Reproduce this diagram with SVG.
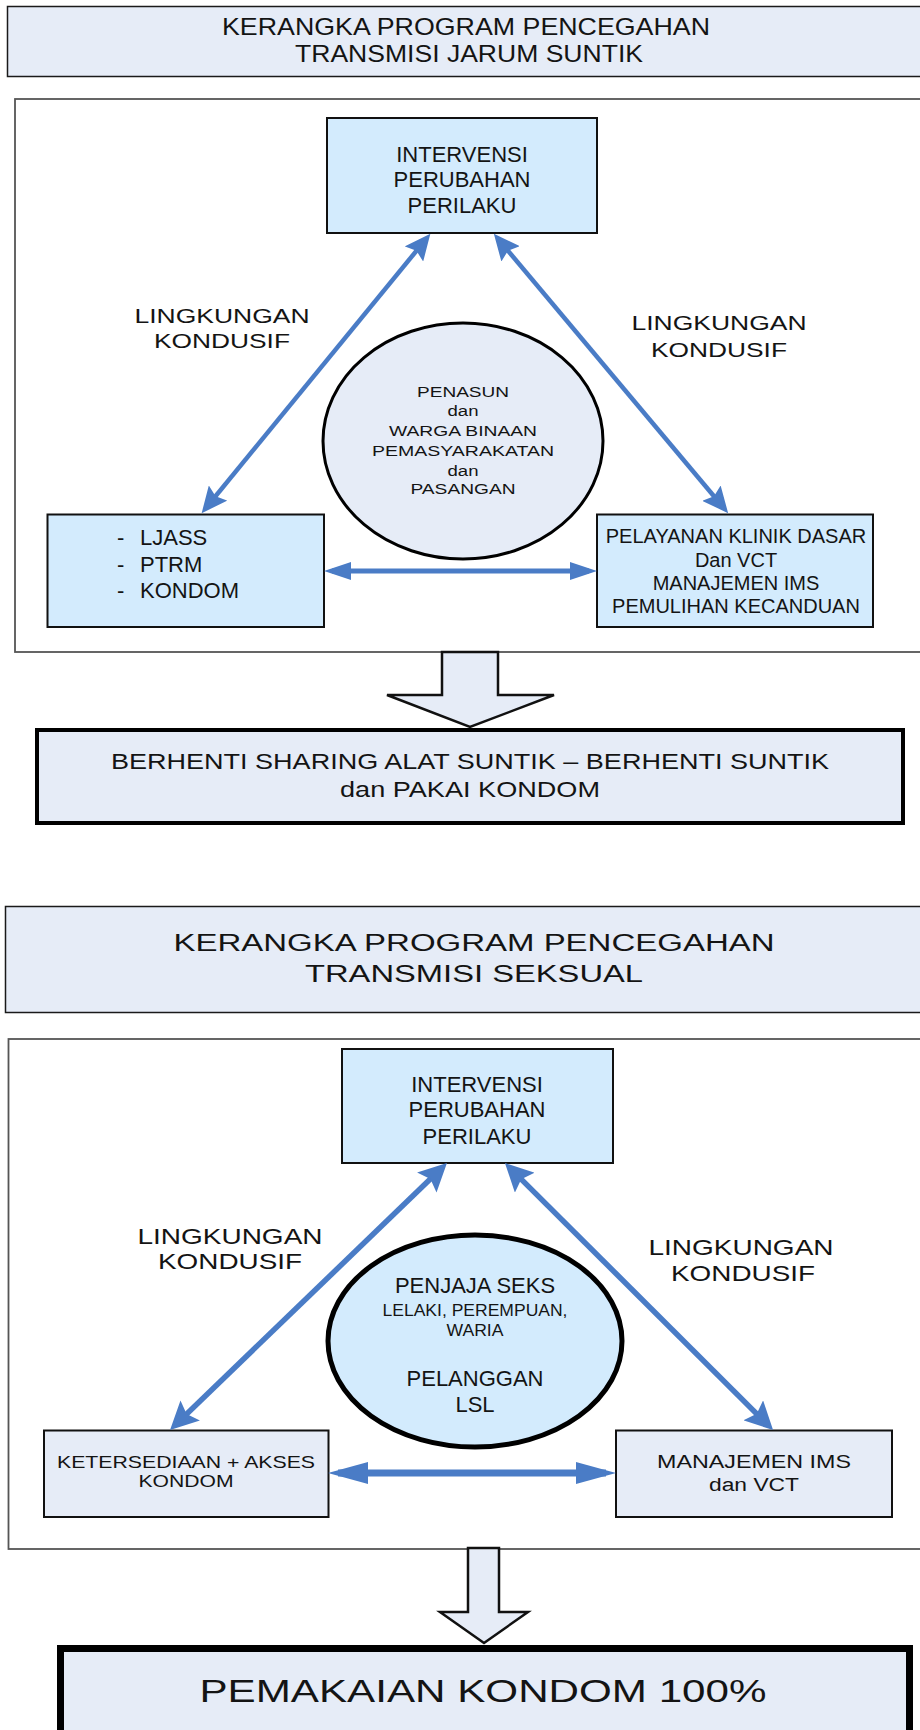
<svg xmlns="http://www.w3.org/2000/svg" width="920" height="1730" viewBox="0 0 920 1730">
<style>
text{font-family:"Liberation Sans",Arial,sans-serif;fill:#141414;}
.t{text-anchor:middle;}
.title{fill:#e6ecf7;stroke:#1a1a1a;stroke-width:1.5;}
.frame{fill:#fff;stroke:#555;stroke-width:1.8;}
.blue{fill:#d3ebfd;stroke:#111;stroke-width:2;}
.pale{fill:#e6ecf7;stroke:#111;stroke-width:2;}
.res1{fill:#e6ecf7;stroke:#000;stroke-width:4;}
.res2{fill:#e6ecf7;stroke:#000;stroke-width:7;}
.down{fill:#e6ecf7;stroke:#111;stroke-width:2.5;stroke-linejoin:miter;}
.c{stroke:#4a7cc6;fill:none;}
</style>
<defs>
<marker id="hd1" markerUnits="userSpaceOnUse" viewBox="0 0 26 24" markerWidth="26" markerHeight="24" refX="18" refY="12" orient="auto-start-reverse"><path d="M0,0 L26,12 L0,24 L4,12 z" fill="#4a7cc6"/></marker>
<marker id="hd2" markerUnits="userSpaceOnUse" viewBox="0 0 28 28" markerWidth="28" markerHeight="28" refX="20" refY="14" orient="auto-start-reverse"><path d="M0,0 L28,14 L0,28 L5,14 z" fill="#4a7cc6"/></marker>
<marker id="hh1" markerUnits="userSpaceOnUse" viewBox="0 0 27 18" markerWidth="27" markerHeight="18" refX="19" refY="9" orient="auto-start-reverse"><path d="M0,0 L27,9 L0,18 z" fill="#4a7cc6"/></marker>
<marker id="hh2" markerUnits="userSpaceOnUse" viewBox="0 0 40 22" markerWidth="40" markerHeight="22" refX="30" refY="11" orient="auto-start-reverse"><path d="M0,0 L40,11 L0,22 z" fill="#4a7cc6"/></marker>
</defs>

<!-- SECTION 1 -->
<g id="title1">
<rect class="title" x="7.5" y="6.5" width="920" height="70"/>
<text class="t" x="466" y="35" font-size="24" textLength="488" lengthAdjust="spacingAndGlyphs">KERANGKA PROGRAM PENCEGAHAN</text>
<text class="t" x="469" y="62" font-size="24" textLength="348" lengthAdjust="spacingAndGlyphs">TRANSMISI JARUM SUNTIK</text>
</g>
<g id="frame1"><rect class="frame" x="15" y="99" width="920" height="553"/></g>

<g id="intervensi1">
<rect class="blue" x="327" y="118" width="270" height="115"/>
<text class="t" x="462" y="162" font-size="22">INTERVENSI</text>
<text class="t" x="462" y="187" font-size="22">PERUBAHAN</text>
<text class="t" x="462" y="213" font-size="22">PERILAKU</text>
</g>
<g id="lingkungan1a">
<text class="t" x="222" y="323" font-size="21" textLength="175" lengthAdjust="spacingAndGlyphs">LINGKUNGAN</text>
<text class="t" x="222" y="348" font-size="21" textLength="136" lengthAdjust="spacingAndGlyphs">KONDUSIF</text>
</g>
<g id="lingkungan1b">
<text class="t" x="719" y="330" font-size="21" textLength="175" lengthAdjust="spacingAndGlyphs">LINGKUNGAN</text>
<text class="t" x="719" y="357" font-size="21" textLength="136" lengthAdjust="spacingAndGlyphs">KONDUSIF</text>
</g>
<g id="penasun">
<ellipse cx="463" cy="441" rx="140" ry="118" fill="#e6ecf7" stroke="#000" stroke-width="3"/>
<text class="t" x="463" y="397" font-size="15.5" textLength="92" lengthAdjust="spacingAndGlyphs">PENASUN</text>
<text class="t" x="463" y="416" font-size="15.5" textLength="31" lengthAdjust="spacingAndGlyphs">dan</text>
<text class="t" x="463" y="436" font-size="15.5" textLength="148" lengthAdjust="spacingAndGlyphs">WARGA BINAAN</text>
<text class="t" x="463" y="456" font-size="15.5" textLength="182" lengthAdjust="spacingAndGlyphs">PEMASYARAKATAN</text>
<text class="t" x="463" y="476" font-size="15.5" textLength="31" lengthAdjust="spacingAndGlyphs">dan</text>
<text class="t" x="463" y="494" font-size="15.5" textLength="105" lengthAdjust="spacingAndGlyphs">PASANGAN</text>
</g>
<g id="ljass">
<rect class="blue" x="47.5" y="514.5" width="276.5" height="112.5"/>
<text x="117" y="545" font-size="22">-</text><text x="140" y="545" font-size="22">LJASS</text>
<text x="117" y="572" font-size="22">-</text><text x="140" y="572" font-size="22">PTRM</text>
<text x="117" y="598" font-size="22">-</text><text x="140" y="598" font-size="22">KONDOM</text>
</g>
<g id="pelayanan">
<rect class="blue" x="597" y="514.5" width="276" height="112.5"/>
<text class="t" x="736" y="543" font-size="20">PELAYANAN KLINIK DASAR</text>
<text class="t" x="736" y="567" font-size="20">Dan VCT</text>
<text class="t" x="736" y="590" font-size="20">MANAJEMEN IMS</text>
<text class="t" x="736" y="613" font-size="20">PEMULIHAN KECANDUAN</text>
</g>
<g id="downarrow1"><polygon class="down" points="442,652 498,652 498,695 554,695 470,727 387,695 442,695"/></g>
<g id="result1">
<rect class="res1" x="37" y="730" width="866" height="93"/>
<text class="t" x="470" y="769" font-size="22" textLength="718" lengthAdjust="spacingAndGlyphs">BERHENTI SHARING ALAT SUNTIK – BERHENTI SUNTIK</text>
<text class="t" x="470" y="797" font-size="22" textLength="260" lengthAdjust="spacingAndGlyphs">dan PAKAI KONDOM</text>
</g>

<!-- SECTION 2 -->
<g id="title2">
<rect class="title" x="5.5" y="906.5" width="920" height="106"/>
<text class="t" x="474" y="951" font-size="23" textLength="601" lengthAdjust="spacingAndGlyphs">KERANGKA PROGRAM PENCEGAHAN</text>
<text class="t" x="474" y="982" font-size="23" textLength="338" lengthAdjust="spacingAndGlyphs">TRANSMISI SEKSUAL</text>
</g>
<g id="frame2"><rect class="frame" x="8.5" y="1039" width="920" height="510"/></g>

<g id="intervensi2">
<rect class="blue" x="342" y="1049" width="271" height="114"/>
<text class="t" x="477" y="1092" font-size="22">INTERVENSI</text>
<text class="t" x="477" y="1117" font-size="22">PERUBAHAN</text>
<text class="t" x="477" y="1144" font-size="22">PERILAKU</text>
</g>
<g id="lingkungan2a">
<text class="t" x="230" y="1244" font-size="21.5" textLength="185" lengthAdjust="spacingAndGlyphs">LINGKUNGAN</text>
<text class="t" x="230" y="1269" font-size="21.5" textLength="144" lengthAdjust="spacingAndGlyphs">KONDUSIF</text>
</g>
<g id="lingkungan2b">
<text class="t" x="741" y="1255" font-size="21.5" textLength="185" lengthAdjust="spacingAndGlyphs">LINGKUNGAN</text>
<text class="t" x="743" y="1281" font-size="21.5" textLength="144" lengthAdjust="spacingAndGlyphs">KONDUSIF</text>
</g>
<g id="penjaja">
<ellipse cx="475" cy="1341" rx="147" ry="106" fill="#d3ebfd" stroke="#000" stroke-width="5"/>
<text class="t" x="475" y="1293" font-size="22">PENJAJA SEKS</text>
<text class="t" x="475" y="1316" font-size="16.5" textLength="185" lengthAdjust="spacingAndGlyphs">LELAKI, PEREMPUAN,</text>
<text class="t" x="475" y="1336" font-size="16.5" textLength="57" lengthAdjust="spacingAndGlyphs">WARIA</text>
<text class="t" x="475" y="1386" font-size="22">PELANGGAN</text>
<text class="t" x="475" y="1412" font-size="22">LSL</text>
</g>
<g id="ketersediaan">
<rect class="pale" x="44" y="1430.5" width="284.5" height="86.5"/>
<text class="t" x="186" y="1468" font-size="17" textLength="258" lengthAdjust="spacingAndGlyphs">KETERSEDIAAN + AKSES</text>
<text class="t" x="186" y="1487" font-size="17" textLength="95" lengthAdjust="spacingAndGlyphs">KONDOM</text>
</g>
<g id="manajemen">
<rect class="pale" x="616" y="1430.5" width="276" height="86.5"/>
<text class="t" x="754" y="1468" font-size="18" textLength="194" lengthAdjust="spacingAndGlyphs">MANAJEMEN IMS</text>
<text class="t" x="754" y="1491" font-size="18" textLength="90" lengthAdjust="spacingAndGlyphs">dan VCT</text>
</g>
<g id="downarrow2"><polygon class="down" points="468,1548 499,1548 499,1612 528,1612 484,1643 440,1612 468,1612"/></g>
<g id="result2">
<rect class="res2" x="60.5" y="1648.5" width="849" height="90"/>
<text class="t" x="483" y="1702" font-size="32" textLength="567" lengthAdjust="spacingAndGlyphs">PEMAKAIAN KONDOM 100%</text>
</g>

<g id="connectors">
<line class="c" stroke-width="4.5" x1="425.3" y1="240" x2="206.7" y2="507" marker-start="url(#hd1)" marker-end="url(#hd1)"/>
<line class="c" stroke-width="4.5" x1="499" y1="240" x2="723" y2="507" marker-start="url(#hd1)" marker-end="url(#hd1)"/>
<line class="c" stroke-width="5" x1="332" y1="571" x2="589" y2="571" marker-start="url(#hh1)" marker-end="url(#hh1)"/>
<line class="c" stroke-width="5.5" x1="441.2" y1="1168.6" x2="175.8" y2="1424.4" marker-start="url(#hd2)" marker-end="url(#hd2)"/>
<line class="c" stroke-width="5.5" x1="510.6" y1="1168.6" x2="767.4" y2="1424.4" marker-start="url(#hd2)" marker-end="url(#hd2)"/>
<line class="c" stroke-width="7" x1="338" y1="1473" x2="606" y2="1473" marker-start="url(#hh2)" marker-end="url(#hh2)"/>
</g>
</svg>
